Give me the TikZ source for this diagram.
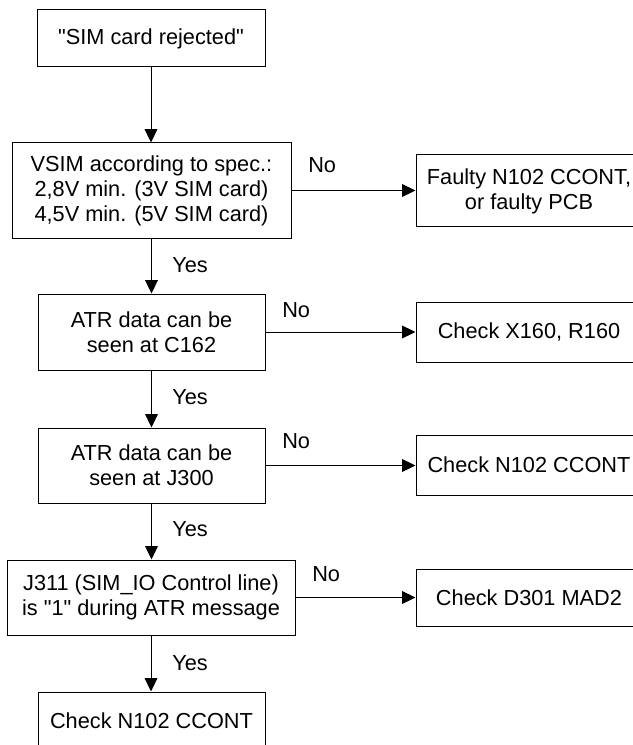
\documentclass[tikz,border=0pt]{standalone}
\usepackage{fontspec}
\setmainfont{Liberation Sans}[Ligatures=TeXOff]
\usetikzlibrary{arrows.meta}
\tikzset{
  box/.style={draw=black, line width=0.75pt, inner sep=0pt, align=center,
    font=\fontsize{16.3}{18.75}\selectfont},
  lbl/.style={inner sep=0pt, anchor=base west, font=\fontsize{16.3}{18.75}\selectfont},
  arr/.style={draw=black, line width=0.75pt, -{Triangle[length=10pt,width=9.5pt]}}
}
\begin{document}
\begin{tikzpicture}[x=0.75pt,y=-0.75pt]
\useasboundingbox (0,0) rectangle (632,745);
% left column
\node[box, minimum width=228*0.75pt, minimum height=57*0.75pt] (b1) at (151,38.5) {"SIM card rejected"};
\node[box, minimum width=279*0.75pt, minimum height=95*0.75pt] (b2) at (151.5,190.5) {VSIM according to spec.:\\2,8V min. (3V SIM card)\\4,5V min. (5V SIM card)};
\node[box, minimum width=227*0.75pt, minimum height=76*0.75pt] (b3) at (151.5,332) {ATR data can be\\seen at C162};
\node[box, minimum width=227*0.75pt, minimum height=75*0.75pt] (b4) at (151.5,465.5) {ATR data can be\\seen at J300};
\node[box, minimum width=288*0.75pt, minimum height=75*0.75pt] (b5) at (151,597.5) {J311 (SIM\_IO Control line)\\is "1" during ATR message};
\node[box, minimum width=227*0.75pt, minimum height=57*0.75pt] (b6) at (151.5,720.5) {Check N102 CCONT};
% right column
\node[box, minimum width=226*0.75pt, minimum height=72*0.75pt] (r1) at (529,191) {Faulty N102 CCONT,\\or faulty PCB};
\node[box, minimum width=226*0.75pt, minimum height=60*0.75pt] (r2) at (529,332) {Check X160, R160};
\node[box, minimum width=226*0.75pt, minimum height=60*0.75pt] (r3) at (529,465) {Check N102 CCONT};
\node[box, minimum width=226*0.75pt, minimum height=57*0.75pt] (r4) at (529,597.5) {Check D301 MAD2};
% vertical arrows
\draw[arr] (b1.south) -- (b1.south |- b2.north);
\draw[arr] (b2.south) -- (b2.south |- b3.north);
\draw[arr] (b3.south) -- (b3.south |- b4.north);
\draw[arr] (b4.south) -- (b4.south |- b5.north);
\draw[arr] (b5.south) -- (b5.south |- b6.north);
% horizontal arrows
\draw[arr] (b2.east) -- (b2.east -| r1.west);
\draw[arr] (b3.east) -- (b3.east -| r2.west);
\draw[arr] (b4.east) -- (b4.east -| r3.west);
\draw[arr] (b5.east) -- (b5.east -| r4.west);
% labels
\node[lbl] (y1) at (172,272) {Yes};
\node[lbl] (y2) at (172,404) {Yes};
\node[lbl] (y3) at (172,536) {Yes};
\node[lbl] (y4) at (172,670) {Yes};
\node[lbl] (n1) at (308,173) {No};
\node[lbl] (n2) at (282,317) {No};
\node[lbl] (n3) at (282,448) {No};
\node[lbl] (n4) at (312,581) {No};
\end{tikzpicture}
\end{document}
